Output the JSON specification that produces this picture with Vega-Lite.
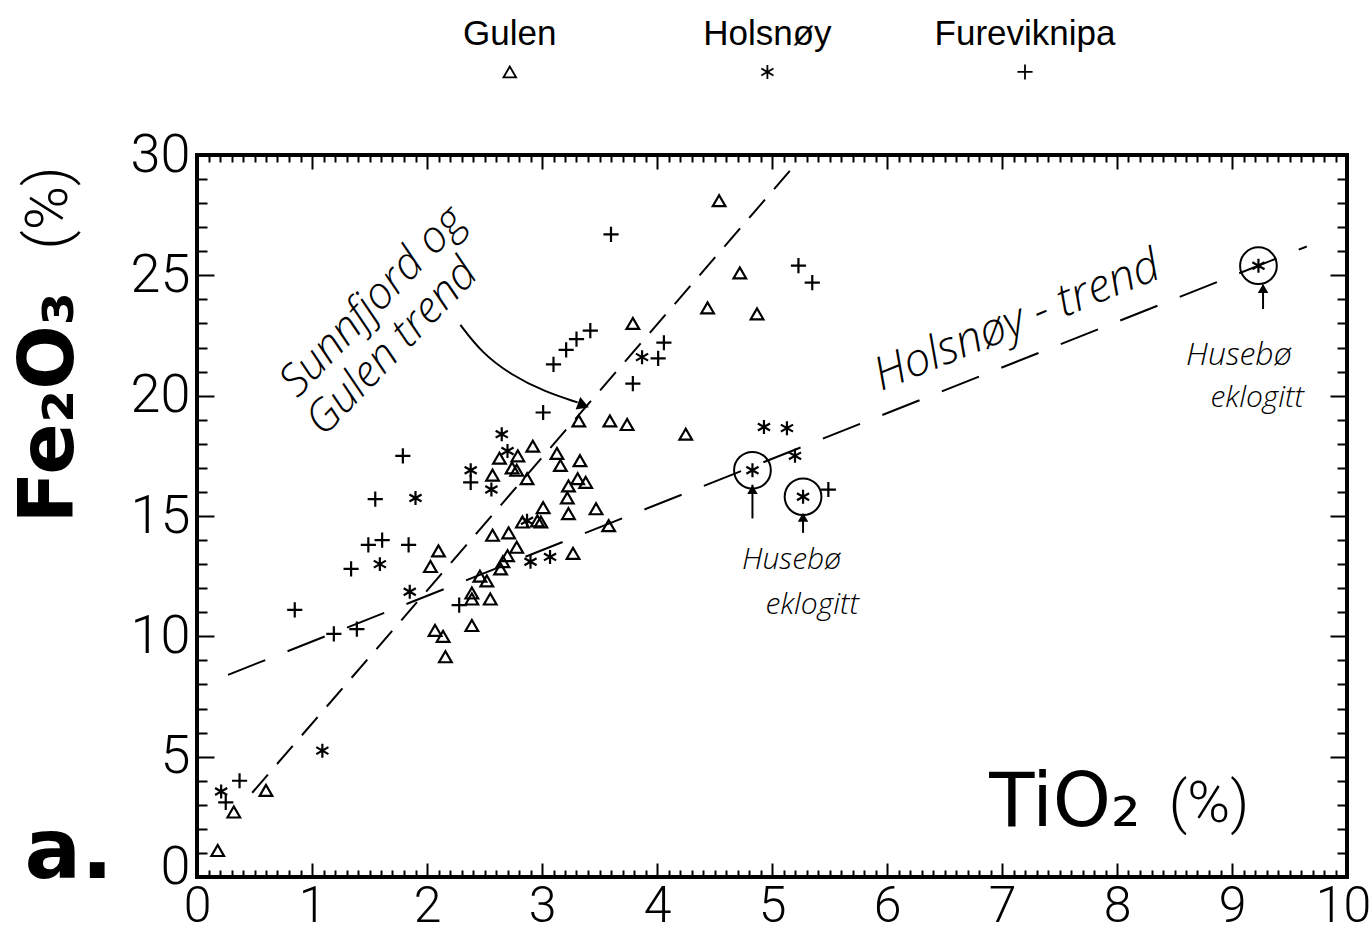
{
  "$schema": "https://vega.github.io/schema/vega-lite/v6.json",
  "width": 1150,
  "height": 722,
  "autosize": {"type": "none"},
  "padding": {"left": 197, "top": 155, "right": 25, "bottom": 55},
  "background": "white",
  "config": {
    "view": {"stroke": "black", "strokeWidth": 4},
    "axis": {"grid": false, "domain": false, "labelFont": "Roboto", "labelFontWeight": 300, "labelColor": "black", "tickColor": "black", "tickWidth": 2, "title": null}
  },
  "datasets": {
    "samples": [
      {"site": "Gulen", "TiO2": 0.18, "Fe2O3": 1.1},
      {"site": "Gulen", "TiO2": 0.32, "Fe2O3": 2.7},
      {"site": "Gulen", "TiO2": 0.60, "Fe2O3": 3.6},
      {"site": "Gulen", "TiO2": 2.07, "Fe2O3": 10.25},
      {"site": "Gulen", "TiO2": 2.14, "Fe2O3": 10.0},
      {"site": "Gulen", "TiO2": 2.16, "Fe2O3": 9.15},
      {"site": "Gulen", "TiO2": 2.39, "Fe2O3": 10.45},
      {"site": "Gulen", "TiO2": 2.10, "Fe2O3": 13.55},
      {"site": "Gulen", "TiO2": 2.03, "Fe2O3": 12.9},
      {"site": "Gulen", "TiO2": 2.39, "Fe2O3": 11.8},
      {"site": "Gulen", "TiO2": 2.39, "Fe2O3": 11.55},
      {"site": "Gulen", "TiO2": 2.55, "Fe2O3": 11.55},
      {"site": "Gulen", "TiO2": 2.46, "Fe2O3": 12.5},
      {"site": "Gulen", "TiO2": 2.52, "Fe2O3": 12.3},
      {"site": "Gulen", "TiO2": 2.64, "Fe2O3": 12.8},
      {"site": "Gulen", "TiO2": 2.66, "Fe2O3": 13.1},
      {"site": "Gulen", "TiO2": 2.70, "Fe2O3": 13.35},
      {"site": "Gulen", "TiO2": 2.78, "Fe2O3": 13.7},
      {"site": "Gulen", "TiO2": 2.57, "Fe2O3": 14.2},
      {"site": "Gulen", "TiO2": 2.71, "Fe2O3": 14.3},
      {"site": "Gulen", "TiO2": 2.83, "Fe2O3": 14.75},
      {"site": "Gulen", "TiO2": 2.96, "Fe2O3": 14.8},
      {"site": "Gulen", "TiO2": 2.99, "Fe2O3": 14.75},
      {"site": "Gulen", "TiO2": 3.01, "Fe2O3": 15.35},
      {"site": "Gulen", "TiO2": 3.23, "Fe2O3": 15.1},
      {"site": "Gulen", "TiO2": 3.22, "Fe2O3": 15.75},
      {"site": "Gulen", "TiO2": 3.47, "Fe2O3": 15.3},
      {"site": "Gulen", "TiO2": 3.58, "Fe2O3": 14.6},
      {"site": "Gulen", "TiO2": 3.27, "Fe2O3": 13.45},
      {"site": "Gulen", "TiO2": 2.87, "Fe2O3": 16.55},
      {"site": "Gulen", "TiO2": 3.23, "Fe2O3": 16.25},
      {"site": "Gulen", "TiO2": 3.31, "Fe2O3": 16.55},
      {"site": "Gulen", "TiO2": 3.38, "Fe2O3": 16.4},
      {"site": "Gulen", "TiO2": 2.57, "Fe2O3": 16.7},
      {"site": "Gulen", "TiO2": 2.74, "Fe2O3": 17.0},
      {"site": "Gulen", "TiO2": 2.78, "Fe2O3": 16.9},
      {"site": "Gulen", "TiO2": 2.63, "Fe2O3": 17.4},
      {"site": "Gulen", "TiO2": 2.79, "Fe2O3": 17.5},
      {"site": "Gulen", "TiO2": 3.13, "Fe2O3": 17.6},
      {"site": "Gulen", "TiO2": 3.16, "Fe2O3": 17.1},
      {"site": "Gulen", "TiO2": 3.33, "Fe2O3": 17.3},
      {"site": "Gulen", "TiO2": 2.92, "Fe2O3": 17.9},
      {"site": "Gulen", "TiO2": 3.32, "Fe2O3": 18.95},
      {"site": "Gulen", "TiO2": 3.59, "Fe2O3": 18.95},
      {"site": "Gulen", "TiO2": 3.74, "Fe2O3": 18.8},
      {"site": "Gulen", "TiO2": 4.25, "Fe2O3": 18.4},
      {"site": "Gulen", "TiO2": 3.79, "Fe2O3": 23.0},
      {"site": "Gulen", "TiO2": 4.44, "Fe2O3": 23.65},
      {"site": "Gulen", "TiO2": 4.87, "Fe2O3": 23.4},
      {"site": "Gulen", "TiO2": 4.72, "Fe2O3": 25.1},
      {"site": "Gulen", "TiO2": 4.54, "Fe2O3": 28.1},
      {"site": "Holsnøy", "TiO2": 0.21, "Fe2O3": 3.55},
      {"site": "Holsnøy", "TiO2": 1.09, "Fe2O3": 5.25},
      {"site": "Holsnøy", "TiO2": 1.85, "Fe2O3": 11.85},
      {"site": "Holsnøy", "TiO2": 1.59, "Fe2O3": 13.0},
      {"site": "Holsnøy", "TiO2": 1.90, "Fe2O3": 15.75},
      {"site": "Holsnøy", "TiO2": 2.38, "Fe2O3": 16.9},
      {"site": "Holsnøy", "TiO2": 2.56, "Fe2O3": 16.1},
      {"site": "Holsnøy", "TiO2": 2.65, "Fe2O3": 18.4},
      {"site": "Holsnøy", "TiO2": 2.70, "Fe2O3": 17.7},
      {"site": "Holsnøy", "TiO2": 2.87, "Fe2O3": 14.8},
      {"site": "Holsnøy", "TiO2": 2.90, "Fe2O3": 13.1},
      {"site": "Holsnøy", "TiO2": 3.07, "Fe2O3": 13.3},
      {"site": "Holsnøy", "TiO2": 3.87, "Fe2O3": 21.6},
      {"site": "Holsnøy", "TiO2": 4.93, "Fe2O3": 18.7},
      {"site": "Holsnøy", "TiO2": 5.13, "Fe2O3": 18.65},
      {"site": "Holsnøy", "TiO2": 5.20, "Fe2O3": 17.5},
      {"site": "Holsnøy", "TiO2": 4.83, "Fe2O3": 16.9, "note": "Husebø eklogitt"},
      {"site": "Holsnøy", "TiO2": 5.27, "Fe2O3": 15.8, "note": "Husebø eklogitt"},
      {"site": "Holsnøy", "TiO2": 9.23, "Fe2O3": 25.4, "note": "Husebø eklogitt"},
      {"site": "Fureviknipa", "TiO2": 0.25, "Fe2O3": 3.1},
      {"site": "Fureviknipa", "TiO2": 0.37, "Fe2O3": 4.0},
      {"site": "Fureviknipa", "TiO2": 0.85, "Fe2O3": 11.1},
      {"site": "Fureviknipa", "TiO2": 1.19, "Fe2O3": 10.1},
      {"site": "Fureviknipa", "TiO2": 1.39, "Fe2O3": 10.3},
      {"site": "Fureviknipa", "TiO2": 1.34, "Fe2O3": 12.8},
      {"site": "Fureviknipa", "TiO2": 1.49, "Fe2O3": 13.8},
      {"site": "Fureviknipa", "TiO2": 1.61, "Fe2O3": 14.0},
      {"site": "Fureviknipa", "TiO2": 1.84, "Fe2O3": 13.8},
      {"site": "Fureviknipa", "TiO2": 1.55, "Fe2O3": 15.7},
      {"site": "Fureviknipa", "TiO2": 1.79, "Fe2O3": 17.5},
      {"site": "Fureviknipa", "TiO2": 2.28, "Fe2O3": 11.3},
      {"site": "Fureviknipa", "TiO2": 2.38, "Fe2O3": 16.4},
      {"site": "Fureviknipa", "TiO2": 3.01, "Fe2O3": 19.3},
      {"site": "Fureviknipa", "TiO2": 3.10, "Fe2O3": 21.3},
      {"site": "Fureviknipa", "TiO2": 3.21, "Fe2O3": 21.9},
      {"site": "Fureviknipa", "TiO2": 3.30, "Fe2O3": 22.35},
      {"site": "Fureviknipa", "TiO2": 3.42, "Fe2O3": 22.7},
      {"site": "Fureviknipa", "TiO2": 3.60, "Fe2O3": 26.7},
      {"site": "Fureviknipa", "TiO2": 3.79, "Fe2O3": 20.5},
      {"site": "Fureviknipa", "TiO2": 4.01, "Fe2O3": 21.55},
      {"site": "Fureviknipa", "TiO2": 4.06, "Fe2O3": 22.2},
      {"site": "Fureviknipa", "TiO2": 5.23, "Fe2O3": 25.4},
      {"site": "Fureviknipa", "TiO2": 5.35, "Fe2O3": 24.7},
      {"site": "Fureviknipa", "TiO2": 5.49, "Fe2O3": 16.1}
    ],
    "trends": [
      {"trend": "Sunnfjord og Gulen trend", "TiO2": 0.48, "Fe2O3": 3.5},
      {"trend": "Sunnfjord og Gulen trend", "TiO2": 5.22, "Fe2O3": 29.7},
      {"trend": "Holsnøy-trend", "TiO2": 0.27, "Fe2O3": 8.4},
      {"trend": "Holsnøy-trend", "TiO2": 9.65, "Fe2O3": 26.2}
    ],
    "arrowcurve": [
      {"TiO2": 2.29, "Fe2O3": 22.94},
      {"TiO2": 2.47, "Fe2O3": 21.81},
      {"TiO2": 2.73, "Fe2O3": 20.86},
      {"TiO2": 3.03, "Fe2O3": 20.15},
      {"TiO2": 3.31, "Fe2O3": 19.72}
    ],
    "one": [{}]
  },
  "resolve": {"axis": {"x": "independent", "y": "independent"}},
  "layer": [
    {
      "data": {"name": "samples"},
      "mark": {"type": "point", "filled": false, "stroke": "black", "strokeWidth": 2.2, "opacity": 1},
      "encoding": {
        "x": {"field": "TiO2", "type": "quantitative", "scale": {"domain": [0, 10], "nice": false, "zero": false},
          "axis": {"orient": "bottom", "values": [0,0.1,0.2,0.3,0.4,0.5,0.6,0.7,0.8,0.9,1,1.1,1.2,1.3,1.4,1.5,1.6,1.7,1.8,1.9,2,2.1,2.2,2.3,2.4,2.5,2.6,2.7,2.8,2.9,3,3.1,3.2,3.3,3.4,3.5,3.6,3.7,3.8,3.9,4,4.1,4.2,4.3,4.4,4.5,4.6,4.7,4.8,4.9,5,5.1,5.2,5.3,5.4,5.5,5.6,5.7,5.8,5.9,6,6.1,6.2,6.3,6.4,6.5,6.6,6.7,6.8,6.9,7,7.1,7.2,7.3,7.4,7.5,7.6,7.7,7.8,7.9,8,8.1,8.2,8.3,8.4,8.5,8.6,8.7,8.8,8.9,9,9.1,9.2,9.3,9.4,9.5,9.6,9.7,9.8,9.9,10],
            "labelExpr": "abs(datum.value - round(datum.value)) < 0.01 ? format(datum.value, 'd') : ''",
            "tickSize": {"condition": {"test": "abs(datum.value - round(datum.value)) < 0.01", "value": -14}, "value": -7},
            "labelOffset": {"condition": {"test": "datum.value === 10", "value": -4}, "value": 0},
            "labelFontSize": 50, "labelPadding": 18, "labelFlush": false, "labelOverlap": false}},
        "y": {"field": "Fe2O3", "type": "quantitative", "scale": {"domain": [0, 30], "nice": false, "zero": false},
          "axis": {"orient": "left", "values": [0,1,2,3,4,5,6,7,8,9,10,11,12,13,14,15,16,17,18,19,20,21,22,23,24,25,26,27,28,29,30],
            "labelExpr": "datum.value % 5 === 0 ? format(datum.value, 'd') : ''",
            "tickSize": {"condition": {"test": "datum.value % 5 === 0", "value": -17}, "value": -10},
            "labelOffset": {"condition": {"test": "datum.value === 0", "value": -10}, "value": 0},
            "labelFontSize": 54, "labelPadding": 24, "labelOverlap": false, "labelBaseline": "middle"}},
        "shape": {"field": "site", "type": "nominal", "legend": null,
          "scale": {"domain": ["Gulen", "Holsnøy", "Fureviknipa"], "range": ["triangle-up", "M0,-1L0,1M-0.87,-0.5L0.87,0.5M-0.87,0.5L0.87,-0.5", "M-1,0L1,0M0,-1L0,1"]}},
        "size": {"field": "site", "type": "nominal", "legend": null,
          "scale": {"domain": ["Gulen", "Holsnøy", "Fureviknipa"], "range": [160, 230, 280]}}
      }
    },
    {
      "data": {"name": "trends"},
      "mark": {"type": "line", "stroke": "black", "strokeWidth": 2},
      "encoding": {
        "x": {"field": "TiO2", "type": "quantitative",
          "axis": {"orient": "top", "labels": false, "values": [0,0.1,0.2,0.3,0.4,0.5,0.6,0.7,0.8,0.9,1,1.1,1.2,1.3,1.4,1.5,1.6,1.7,1.8,1.9,2,2.1,2.2,2.3,2.4,2.5,2.6,2.7,2.8,2.9,3,3.1,3.2,3.3,3.4,3.5,3.6,3.7,3.8,3.9,4,4.1,4.2,4.3,4.4,4.5,4.6,4.7,4.8,4.9,5,5.1,5.2,5.3,5.4,5.5,5.6,5.7,5.8,5.9,6,6.1,6.2,6.3,6.4,6.5,6.6,6.7,6.8,6.9,7,7.1,7.2,7.3,7.4,7.5,7.6,7.7,7.8,7.9,8,8.1,8.2,8.3,8.4,8.5,8.6,8.7,8.8,8.9,9,9.1,9.2,9.3,9.4,9.5,9.6,9.7,9.8,9.9,10],
            "tickSize": {"condition": {"test": "abs(datum.value - round(datum.value)) < 0.01", "value": -14}, "value": -7}}},
        "y": {"field": "Fe2O3", "type": "quantitative",
          "axis": {"orient": "right", "labels": false, "values": [0,1,2,3,4,5,6,7,8,9,10,11,12,13,14,15,16,17,18,19,20,21,22,23,24,25,26,27,28,29,30],
            "tickSize": {"condition": {"test": "datum.value % 5 === 0", "value": -17}, "value": -10}}},
        "detail": {"field": "trend", "type": "nominal"},
        "strokeDash": {"field": "trend", "type": "nominal", "legend": null,
          "scale": {"domain": ["Sunnfjord og Gulen trend", "Holsnøy-trend"], "range": [[24, 14], [40, 24]]}}
      }
    },
    {
      "data": {"name": "samples"},
      "transform": [{"filter": "datum.note === 'Husebø eklogitt'"}],
      "mark": {"type": "point", "shape": "circle", "filled": false, "stroke": "black", "strokeWidth": 2, "size": 1350, "opacity": 1},
      "encoding": {
        "x": {"field": "TiO2", "type": "quantitative", "axis": null},
        "y": {"field": "Fe2O3", "type": "quantitative", "axis": null}
      }
    },
    {
      "data": {"name": "arrowcurve"},
      "mark": {"type": "line", "stroke": "black", "strokeWidth": 2, "interpolate": "basis"},
      "encoding": {
        "x": {"field": "TiO2", "type": "quantitative", "axis": null},
        "y": {"field": "Fe2O3", "type": "quantitative", "axis": null}
      }
    },
    {
      "data": {"name": "one"},
      "mark": {"type": "point", "shape": "triangle-right", "filled": true, "color": "black", "size": 180, "angle": 20, "opacity": 1},
      "encoding": {"x": {"datum": 3.36, "axis": null}, "y": {"datum": 19.6, "axis": null}}
    },
    {
      "data": {"name": "one"},
      "mark": {"type": "rule", "stroke": "black", "strokeWidth": 2},
      "encoding": {"x": {"datum": 4.83, "axis": null}, "y": {"datum": 14.9, "axis": null}, "y2": {"datum": 16.3}}
    },
    {
      "data": {"name": "one"},
      "mark": {"type": "rule", "stroke": "black", "strokeWidth": 2},
      "encoding": {"x": {"datum": 5.27, "axis": null}, "y": {"datum": 14.3, "axis": null}, "y2": {"datum": 15.05}}
    },
    {
      "data": {"name": "one"},
      "mark": {"type": "rule", "stroke": "black", "strokeWidth": 2},
      "encoding": {"x": {"datum": 9.27, "axis": null}, "y": {"datum": 23.6, "axis": null}, "y2": {"datum": 24.6}}
    },
    {
      "data": {"name": "one"},
      "mark": {"type": "point", "shape": "triangle-up", "filled": true, "color": "black", "size": 110, "opacity": 1},
      "encoding": {"x": {"datum": 4.83, "axis": null}, "y": {"datum": 16.1, "axis": null}}
    },
    {
      "data": {"name": "one"},
      "mark": {"type": "point", "shape": "triangle-up", "filled": true, "color": "black", "size": 110, "opacity": 1},
      "encoding": {"x": {"datum": 5.27, "axis": null}, "y": {"datum": 14.95, "axis": null}}
    },
    {
      "data": {"name": "one"},
      "mark": {"type": "point", "shape": "triangle-up", "filled": true, "color": "black", "size": 110, "opacity": 1},
      "encoding": {"x": {"datum": 9.27, "axis": null}, "y": {"datum": 24.45, "axis": null}}
    },
    {
      "data": {"name": "one"},
      "mark": {"type": "text", "font": "Open Sans", "fontStyle": "italic", "fontWeight": 300, "fontSize": 44, "angle": -46, "align": "center", "baseline": "middle", "color": "black"},
      "encoding": {"x": {"datum": 1.53, "axis": null}, "y": {"datum": 23.9, "axis": null}, "text": {"value": "Sunnfjord og"}}
    },
    {
      "data": {"name": "one"},
      "mark": {"type": "text", "font": "Open Sans", "fontStyle": "italic", "fontWeight": 300, "fontSize": 44, "angle": -46, "align": "center", "baseline": "middle", "color": "black"},
      "encoding": {"x": {"datum": 1.7, "axis": null}, "y": {"datum": 22.0, "axis": null}, "text": {"value": "Gulen trend"}}
    },
    {
      "data": {"name": "one"},
      "mark": {"type": "text", "font": "Open Sans", "fontStyle": "italic", "fontWeight": 300, "fontSize": 46, "angle": -22, "align": "center", "baseline": "middle", "color": "black"},
      "encoding": {"x": {"datum": 7.13, "axis": null}, "y": {"datum": 23.1, "axis": null}, "text": {"value": "Holsnøy - trend"}}
    },
    {
      "data": {"name": "one"},
      "mark": {"type": "text", "font": "Open Sans", "fontStyle": "italic", "fontWeight": 300, "fontSize": 30, "align": "center", "baseline": "middle", "color": "black"},
      "encoding": {"x": {"datum": 5.17, "axis": null}, "y": {"datum": 13.17, "axis": null}, "text": {"value": "Husebø"}}
    },
    {
      "data": {"name": "one"},
      "mark": {"type": "text", "font": "Open Sans", "fontStyle": "italic", "fontWeight": 300, "fontSize": 30, "align": "center", "baseline": "middle", "color": "black"},
      "encoding": {"x": {"datum": 5.35, "axis": null}, "y": {"datum": 11.3, "axis": null}, "text": {"value": "eklogitt"}}
    },
    {
      "data": {"name": "one"},
      "mark": {"type": "text", "font": "Open Sans", "fontStyle": "italic", "fontWeight": 300, "fontSize": 32, "align": "center", "baseline": "middle", "color": "black"},
      "encoding": {"x": {"datum": 9.06, "axis": null}, "y": {"datum": 21.69, "axis": null}, "text": {"value": "Husebø"}}
    },
    {
      "data": {"name": "one"},
      "mark": {"type": "text", "font": "Open Sans", "fontStyle": "italic", "fontWeight": 300, "fontSize": 30, "align": "center", "baseline": "middle", "color": "black"},
      "encoding": {"x": {"datum": 9.22, "axis": null}, "y": {"datum": 19.9, "axis": null}, "text": {"value": "eklogitt"}}
    },
    {
      "data": {"name": "one"},
      "mark": {"type": "text", "font": "Liberation Sans", "fontSize": 35, "align": "center", "baseline": "alphabetic", "color": "black"},
      "encoding": {"x": {"datum": 2.72, "axis": null}, "y": {"datum": 34.55, "axis": null}, "text": {"value": "Gulen"}}
    },
    {
      "data": {"name": "one"},
      "mark": {"type": "text", "font": "Liberation Sans", "fontSize": 35, "align": "center", "baseline": "alphabetic", "color": "black"},
      "encoding": {"x": {"datum": 4.96, "axis": null}, "y": {"datum": 34.55, "axis": null}, "text": {"value": "Holsnøy"}}
    },
    {
      "data": {"name": "one"},
      "mark": {"type": "text", "font": "Liberation Sans", "fontSize": 35, "align": "center", "baseline": "alphabetic", "color": "black"},
      "encoding": {"x": {"datum": 7.2, "axis": null}, "y": {"datum": 34.55, "axis": null}, "text": {"value": "Fureviknipa"}}
    },
    {
      "data": {"name": "one"},
      "mark": {"type": "point", "filled": false, "stroke": "black", "strokeWidth": 1.8, "opacity": 1},
      "encoding": {"x": {"datum": 2.72, "axis": null}, "y": {"datum": 33.45, "axis": null}, "shape": {"datum": "Gulen"}, "size": {"datum": "Gulen"}}
    },
    {
      "data": {"name": "one"},
      "mark": {"type": "point", "filled": false, "stroke": "black", "strokeWidth": 1.8, "opacity": 1},
      "encoding": {"x": {"datum": 4.96, "axis": null}, "y": {"datum": 33.45, "axis": null}, "shape": {"datum": "Holsnøy"}, "size": {"datum": "Holsnøy"}}
    },
    {
      "data": {"name": "one"},
      "mark": {"type": "point", "filled": false, "stroke": "black", "strokeWidth": 1.8, "opacity": 1},
      "encoding": {"x": {"datum": 7.2, "axis": null}, "y": {"datum": 33.45, "axis": null}, "shape": {"datum": "Fureviknipa"}, "size": {"datum": "Fureviknipa"}}
    },
    {
      "data": {"name": "one"},
      "mark": {"type": "text", "font": "DejaVu Sans", "fontWeight": "bold", "fontSize": 76, "angle": -90, "align": "center", "baseline": "alphabetic", "color": "black"},
      "encoding": {"x": {"datum": -1.08, "axis": null}, "y": {"datum": 19.5, "axis": null}, "text": {"value": "Fe₂O₃"}}
    },
    {
      "data": {"name": "one"},
      "mark": {"type": "text", "font": "Roboto", "fontWeight": 300, "fontSize": 60, "angle": -90, "align": "center", "baseline": "alphabetic", "color": "black"},
      "encoding": {"x": {"datum": -1.13, "axis": null}, "y": {"datum": 27.8, "axis": null}, "text": {"value": "(%)"}}
    },
    {
      "data": {"name": "one"},
      "mark": {"type": "text", "font": "DejaVu Sans", "fontSize": 74, "align": "left", "baseline": "alphabetic", "color": "black"},
      "encoding": {"x": {"datum": 6.89, "axis": null}, "y": {"datum": 2.12, "axis": null}, "text": {"value": "TiO₂"}}
    },
    {
      "data": {"name": "one"},
      "mark": {"type": "text", "font": "Roboto", "fontWeight": 300, "fontSize": 58, "align": "left", "baseline": "alphabetic", "color": "black"},
      "encoding": {"x": {"datum": 8.45, "axis": null}, "y": {"datum": 2.3, "axis": null}, "text": {"value": "(%)"}}
    },
    {
      "data": {"name": "one"},
      "mark": {"type": "text", "font": "DejaVu Sans", "fontWeight": "bold", "fontSize": 84, "align": "left", "baseline": "alphabetic", "color": "black"},
      "encoding": {"x": {"datum": -1.5, "axis": null}, "y": {"datum": -0.05, "axis": null}, "text": {"value": "a."}}
    }
  ]
}
